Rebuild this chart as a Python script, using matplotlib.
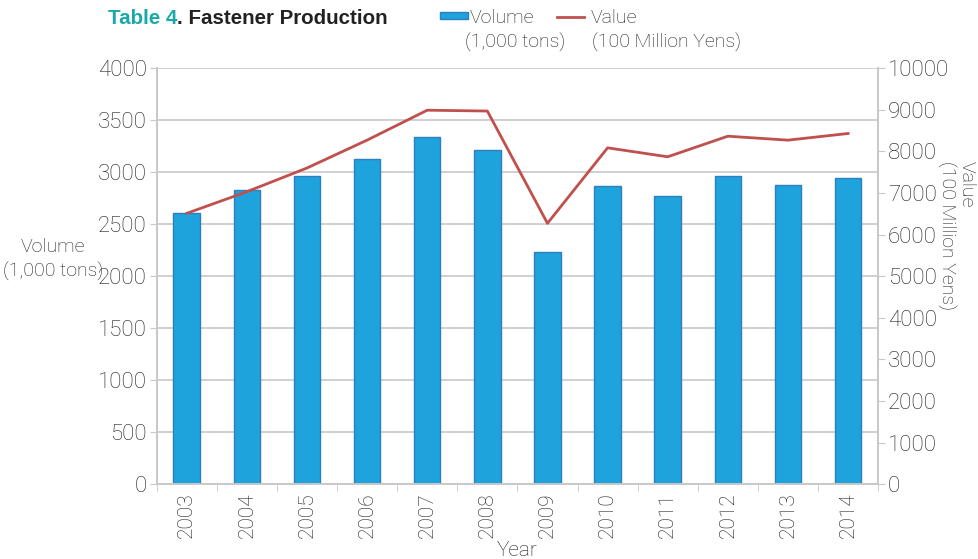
import numpy as np
import matplotlib
matplotlib.use("Agg")
import matplotlib.pyplot as plt
from matplotlib.patches import Rectangle
from matplotlib.lines import Line2D

# data
years = ["2003", "2004", "2005", "2006", "2007", "2008",
         "2009", "2010", "2011", "2012", "2013", "2014"]
volume = [2610, 2825, 2960, 3130, 3340, 3210, 2230, 2870, 2770, 2965, 2880, 2940]
value = [6510, 7030, 7600, 8270, 8990, 8970, 6270, 8085, 7870, 8365, 8270, 8430]

vol_ticks = [0, 500, 1000, 1500, 2000, 2500, 3000, 3500, 4000]
val_ticks = [0, 1000, 2000, 3000, 4000, 5000, 6000, 7000, 8000, 9000, 10000]

BAR = "#1ea3dc"
BAR_EDGE = "#2f7fbf"
LINE = "#c0504d"
GRID = "#c8c8c8"
TXT = "#1c1c1c"

plt.rcParams["font.family"] = ["Roboto", "DejaVu Sans"]
TICK_FS = 16
LAB_FS = 14
W = "light"

fig = plt.figure(figsize=(9.79, 5.59), dpi=100)
ax = fig.add_axes([0.160, 0.134, 0.737, 0.744])
ax2 = ax.twinx()

x = np.arange(len(years))
ax.bar(x, volume, width=0.44, color=BAR, edgecolor=BAR_EDGE, linewidth=1, zorder=2)
ax2.plot(x, value, color=LINE, lw=2, zorder=3)

ax.set_xlim(-0.5, len(years) - 0.5)
ax.set_ylim(0, 4000)
ax2.set_ylim(0, 10000)
ax.set_yticks(vol_ticks)
ax2.set_yticks(val_ticks)
ax.set_yticklabels([str(v) for v in vol_ticks], fontsize=TICK_FS, color=TXT, fontweight=W)
ax2.set_yticklabels([str(v) for v in val_ticks], fontsize=TICK_FS, color=TXT, fontweight=W)

ax.set_xticks(x)
ax.set_xticklabels(years, rotation=90, fontsize=15, color=TXT, fontweight=W)
ax.set_xticks(np.arange(-0.5, len(years)), minor=True)
ax.tick_params(axis="x", which="major", length=0, pad=6)
ax.tick_params(axis="x", which="minor", length=5, color=GRID)
ax.tick_params(axis="y", length=5, color=GRID, pad=2)
ax2.tick_params(axis="y", length=5, color=GRID, pad=2)

ax.yaxis.grid(True, color=GRID, lw=1.2)
ax.set_axisbelow(True)
for a in (ax, ax2):
    a.spines["top"].set_visible(False)
    for s in ("left", "right", "bottom"):
        a.spines[s].set_color(GRID)
        a.spines[s].set_linewidth(1.2)

ax.set_xlabel("Year", fontsize=15, color=TXT, fontweight=W, labelpad=2)
fig.text(0.0545, 0.535, "Volume\n(1,000 tons)", ha="center", va="center",
         fontsize=LAB_FS, color=TXT, fontweight=W, linespacing=1.4)
fig.text(0.9765, 0.712, "Value\n(100 Million Yens)", ha="center", va="top",
         rotation=-90, fontsize=LAB_FS, color=TXT, fontweight=W, linespacing=1.1,
         multialignment="left")

# title
t1 = fig.text(0.110, 0.967, "Table 4", fontsize=14.8, fontweight="bold",
              color="#1aa9a9", family="Liberation Sans", va="center")
fig.canvas.draw()
bb = t1.get_window_extent()
fig.text(bb.x1 / fig.bbox.width, 0.967, ". Fastener Production", fontsize=14.8,
         fontweight="bold", color="#222222", family="Liberation Sans", va="center")

# legend
fig.patches.append(Rectangle((0.4494, 0.966), 0.0286, 0.0125, transform=fig.transFigure,
                             facecolor=BAR, edgecolor=BAR_EDGE, lw=1))
fig.text(0.480, 0.968, "Volume", fontsize=LAB_FS, color=TXT, fontweight=W, va="center")
fig.text(0.475, 0.924, "(1,000 tons)", fontsize=LAB_FS, color=TXT, fontweight=W, va="center")
fig.lines.append(Line2D([0.569, 0.5965], [0.970, 0.970], transform=fig.transFigure,
                        color=LINE, lw=2))
fig.text(0.6037, 0.968, "Value", fontsize=LAB_FS, color=TXT, fontweight=W, va="center")
fig.text(0.6047, 0.924, "(100 Million Yens)", fontsize=LAB_FS, color=TXT, fontweight=W, va="center")

fig.savefig("out.png", dpi=100)
